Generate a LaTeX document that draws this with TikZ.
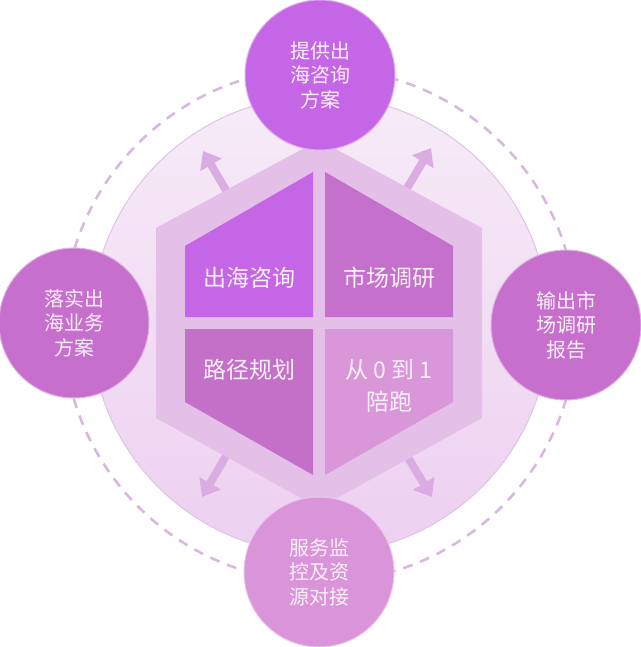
\documentclass[tikz,border=0pt]{standalone}
\usepackage{fontspec}
\newfontfamily\cjk{Noto Sans CJK SC}
\usetikzlibrary{arrows.meta}
\definecolor{cTop}{HTML}{C566E6}
\definecolor{cSide}{HTML}{C66FCD}
\definecolor{cBot}{HTML}{DA94DA}
\definecolor{pTL}{HTML}{C566E6}
\definecolor{pTR}{HTML}{C470CC}
\definecolor{pBL}{HTML}{C470C9}
\definecolor{pBR}{HTML}{D996D9}
\definecolor{band}{HTML}{E4C0E9}
\definecolor{bigTop}{HTML}{F7EBF8}
\definecolor{bigBot}{HTML}{EDD0F0}
\definecolor{bigEdge}{HTML}{DEC3E4}
\definecolor{dashc}{HTML}{D9B7E0}
\definecolor{arrc}{HTML}{DBACE2}
\definecolor{txt}{HTML}{FCF0FC}
\tikzset{
  bubble/.style={circle, minimum size=150pt, inner sep=0pt, draw=#1!55!white, line width=1pt, fill=#1,
    text=txt, align=center, font=\cjk\fontsize{20pt}{24.5pt}\selectfont},
  ptext/.style={text=txt, align=center, inner sep=0pt, font=\cjk\fontsize{23pt}{32pt}\selectfont},
  fatarrow/.style={arrc, line width=8pt, -{Triangle[width=24pt,length=16pt]}}
}
\begin{document}
\begin{tikzpicture}[x=1pt,y=-1pt]
\useasboundingbox (0,0) rectangle (640,647);
% dashed ring
\draw[dashc, line width=2.6pt, dash pattern=on 10pt off 8pt] (320,325) circle[radius=257pt];
% big light disc
\shade[top color=bigTop, bottom color=bigBot] (320,325) circle[radius=229pt];
\draw[bigEdge, line width=1pt] (320,325) circle[radius=229pt];
% arrows
\coordinate (a1s) at (227,192); \coordinate (a1e) at (203,151);
\coordinate (a2s) at (406,190); \coordinate (a2e) at (431,148);
\coordinate (a3s) at (226,456); \coordinate (a3e) at (202,497);
\coordinate (a4s) at (407,456); \coordinate (a4e) at (432,497);
\draw[fatarrow] (a1s) -- (a1e);
\draw[fatarrow] (a2s) -- (a2e);
\draw[fatarrow] (a3s) -- (a3e);
\draw[fatarrow] (a4s) -- (a4e);
% outer hexagon band
\fill[band] (319,140) -- (482,228) -- (482,418) -- (319,508) -- (156,418) -- (156,228) -- cycle;
% inner pieces
\fill[pTL] (185,246) -- (313,172) -- (313,317) -- (185,317) -- cycle;
\fill[pTR] (325,172) -- (453,246) -- (453,317) -- (325,317) -- cycle;
\fill[pBL] (185,329) -- (313,329) -- (313,475) -- (185,402) -- cycle;
\fill[pBR] (325,329) -- (453,329) -- (453,402) -- (325,475) -- cycle;
\node[ptext] (q1) at (249,278) {出海咨询};
\node[ptext] (q2) at (389,278) {市场调研};
\node[ptext] (q3) at (249,370) {路径规划};
\node[ptext] (q4) at (389,386) {从 0 到 1\\陪跑};
% outer bubbles
\node[bubble=cTop] (top) at (320,75) {提供出\\海咨询\\方案};
\node[bubble=cSide] (left) at (74,323) {落实出\\海业务\\方案};
\node[bubble=cSide] (right) at (566,325) {输出市\\场调研\\报告};
\node[bubble=cBot] (bottom) at (319,572) {服务监\\控及资\\源对接};
\end{tikzpicture}
\end{document}
